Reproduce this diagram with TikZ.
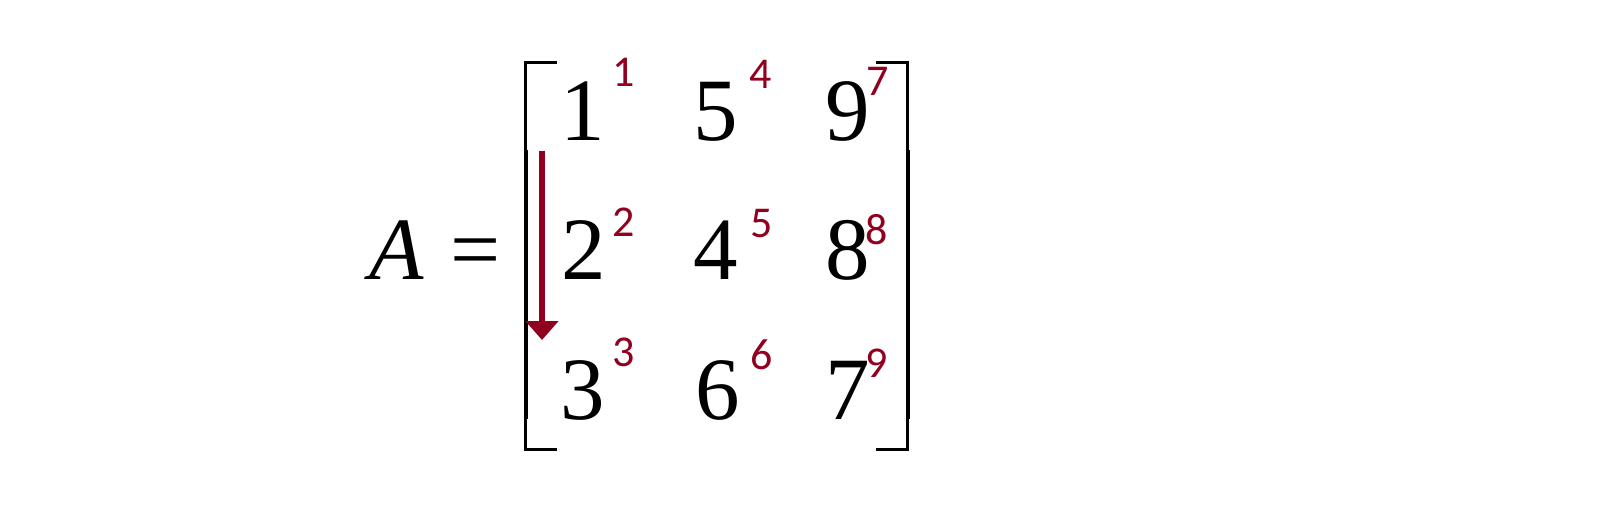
\documentclass[tikz,border=0pt]{standalone}
\usepackage{fontspec}
\setmainfont{Liberation Serif}
\newfontfamily\redfont{Carlito}
\usetikzlibrary{arrows.meta}
\definecolor{darkred}{RGB}{145,0,30}
\begin{document}
\begin{tikzpicture}[x=1pt,y=-1pt,
  entry/.style={anchor=base,inner sep=0pt,font=\fontsize{89}{89}\selectfont},
  idx/.style={anchor=base,inner sep=0pt,text=darkred,font=\redfont\fontsize{44}{44}\selectfont},
  brk/.style={line width=3pt,line cap=rect},
  brkmid/.style={line width=4pt},
  flow/.style={draw=darkred,line width=6pt,-{Triangle[width=32pt,length=19pt]}}]
\useasboundingbox (0,0) rectangle (1622,516);
\fill[white] (0,0) rectangle (1622,516);
% left side
\node[entry] (A) at (397,279) {\itshape A};
\node[entry] (eq) at (476,279) {=};
% brackets
\draw[brk] (555,63) -- (525,63) -- (525,150);
\draw[brkmid] (525.5,150) -- (525.5,419);
\draw[brk] (525,419) -- (525,449) -- (555,449);
\draw[brk] (877,63) -- (907,63) -- (907,150);
\draw[brkmid] (907.5,150) -- (907.5,419);
\draw[brk] (907,419) -- (907,449) -- (877,449);
% entries
\node[entry] (e11) at (583,140) {1};
\node[entry] (e12) at (716,140) {5};
\node[entry] (e13) at (848,140) {9};
\node[entry] (e21) at (584,279) {2};
\node[entry] (e22) at (716,279) {4};
\node[entry] (e23) at (848,279) {8};
\node[entry] (e31) at (583,419) {3};
\node[entry] (e32) at (718,419) {6};
\node[entry] (e33) at (848,419) {7};
% storage indices
\node[idx] (i11) at (624,87) {1};
\node[idx] (i12) at (761,89) {4};
\node[idx] (i13) at (878,96) {7};
\node[idx] (i21) at (624,236) {2};
\node[idx] (i22) at (762,237) {5};
\node[idx] (i23) at (877,244) {8};
\node[idx] (i31) at (624,366) {3};
\node[idx] (i32) at (762,369) {6};
\node[idx] (i33) at (877,377) {9};
% column-major arrow
\coordinate (atop) at (542,151);
\coordinate (atip) at (542,340);
\draw[flow] (atop) -- (atip);
\end{tikzpicture}
\end{document}
